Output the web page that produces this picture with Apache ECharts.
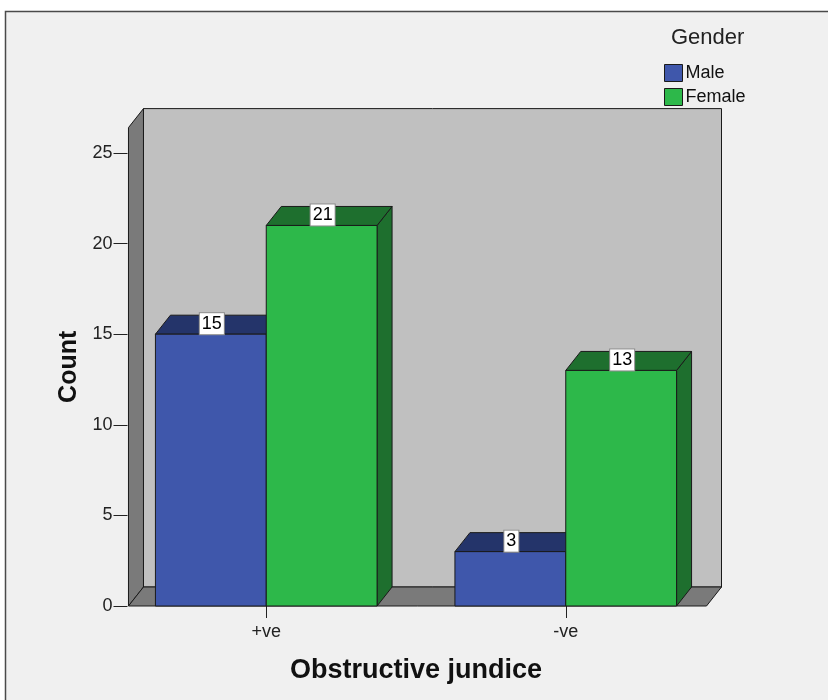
<!DOCTYPE html>
<html>
<head>
<meta charset="utf-8">
<script src="https://cdn.jsdelivr.net/npm/echarts@6/dist/echarts.min.js"></script>
<style>
  html, body { margin: 0; padding: 0; background: #ffffff; }
  #chart { width: 828px; height: 700px; }
</style>
</head>
<body>
<div id="chart"></div>
<script>
// Counts of obstructive jaundice findings by gender
const categories = ['+ve', '-ve'];
const maleCounts = [15, 3];
const femaleCounts = [21, 13];
const yTicks = [0, 5, 10, 15, 20, 25];

// 3D look: depth offset of bars and walls
const DX = 15, DY = 19;
const BAR_FRAC = 0.37;
const EDGE = '#1a1a1a';

const colors = {
  Male: { front: '#3f57ab', top: '#24346a', side: '#2b3d7c' },
  Female: { front: '#2db84a', top: '#1e6f2e', side: '#1e6f2e' }
};
const baseFont = '"Liberation Sans", Arial, sans-serif';

function barRenderer(name, sideIndex) {
  const c = colors[name];
  return function (params, api) {
    const idx = api.value(0);
    const val = api.value(1);
    const base = api.coord([idx, 0]);
    const top = api.coord([idx, val]);
    const band = api.size([1, 0])[0];
    const w = band * BAR_FRAC;
    const x0 = sideIndex === 0 ? base[0] - w : base[0];
    const x1 = x0 + w;
    const y0 = base[1];
    const y1 = top[1];
    return {
      type: 'group',
      children: [
        { type: 'polygon', shape: { points: [[x1, y1], [x1 + DX, y1 - DY], [x1 + DX, y0 - DY], [x1, y0]] },
          style: { fill: c.side, stroke: EDGE, lineWidth: 1 } },
        { type: 'polygon', shape: { points: [[x0, y1], [x0 + DX, y1 - DY], [x1 + DX, y1 - DY], [x1, y1]] },
          style: { fill: c.top, stroke: EDGE, lineWidth: 1 } },
        { type: 'rect', shape: { x: x0, y: y1, width: w, height: y0 - y1 },
          style: { fill: c.front, stroke: EDGE, lineWidth: 1 } },
        { type: 'text', x: (x0 + x1) / 2 + 1, y: y1 - DY / 2 - 1,
          style: { text: String(val), fill: '#000', font: '18px ' + baseFont,
            align: 'center', verticalAlign: 'middle', backgroundColor: '#ffffff',
            borderColor: '#8a8a8a', borderWidth: 1, padding: [2, 2, 1, 2] } }
      ]
    };
  };
}

// Side wall, back wall and floor of the plotting box
function wallRenderer(params, api) {
  const cs = params.coordSys;
  const band = api.size([1, 0])[0];
  const y0 = api.coord([0, 0])[1];
  const yt = cs.y;
  const xl = api.coord([0, 0])[0] - 0.46 * band;
  const xr = api.coord([categories.length - 1, 0])[0] + 0.47 * band;
  const st = (fill) => ({ fill: fill, stroke: EDGE, lineWidth: 1 });
  return {
    type: 'group',
    children: [
      { type: 'polygon', shape: { points: [[xl + DX, yt - DY], [xr + DX, yt - DY], [xr + DX, y0 - DY], [xl + DX, y0 - DY]] }, style: st('#c0c0c0') },
      { type: 'polygon', shape: { points: [[xl, y0], [xl, yt], [xl + DX, yt - DY], [xl + DX, y0 - DY]] }, style: st('#7a7a7a') },
      { type: 'polygon', shape: { points: [[xl, y0], [xl + DX, y0 - DY], [xr + DX, y0 - DY], [xr, y0]] }, style: st('#7a7a7a') }
    ]
  };
}

const chart = echarts.init(document.getElementById('chart'), null, { renderer: 'canvas' });

chart.setOption({
  animation: false,
  backgroundColor: '#ffffff',
  graphic: [{
    type: 'rect', z: -10, silent: true,
    shape: { x: 5.5, y: 11.5, width: 900, height: 800 },
    style: { fill: '#f0f0f0', stroke: '#4a4a4a', lineWidth: 1.5 }
  }],
  title: {
    text: 'Gender', left: 671, top: 27, padding: 0,
    textStyle: { fontFamily: baseFont, fontSize: 22, fontWeight: 'normal', color: '#222' }
  },
  legend: {
    orient: 'vertical', left: 664, top: 64, padding: 0, itemGap: 6,
    itemWidth: 18, itemHeight: 17, icon: 'rect',
    data: [
      { name: 'Male', itemStyle: { color: colors.Male.front, borderColor: EDGE, borderWidth: 1 } },
      { name: 'Female', itemStyle: { color: colors.Female.front, borderColor: EDGE, borderWidth: 1 } }
    ],
    textStyle: { fontFamily: baseFont, fontSize: 18, color: '#111', padding: [0, 0, 0, -2] }
  },
  grid: { left: 116.5, right: 112.5, top: 127.6, bottom: 94, containLabel: false },
  xAxis: {
    type: 'category', data: categories, boundaryGap: true,
    axisLine: { show: false },
    axisTick: { show: true, alignWithLabel: true, length: 12, lineStyle: { color: '#222', width: 1 } },
    axisLabel: { margin: 17, fontFamily: baseFont, fontSize: 18, color: '#222' },
    name: 'Obstructive jundice', nameLocation: 'middle', nameGap: 51,
    nameTextStyle: { fontFamily: baseFont, fontSize: 27, fontWeight: 'bold', color: '#111' }
  },
  yAxis: {
    type: 'value', min: 0, max: 26.4, interval: 5, offset: -11,
    splitLine: { show: false },
    axisLine: { show: false },
    axisTick: { show: true, length: 14, customValues: yTicks, lineStyle: { color: '#222', width: 1 } },
    axisLabel: { margin: 15, customValues: yTicks, fontFamily: baseFont, fontSize: 18, color: '#222' },
    name: 'Count', nameLocation: 'middle', nameGap: 45, nameRotate: 90,
    nameTextStyle: { fontFamily: baseFont, fontSize: 25, fontWeight: 'bold', color: '#111' }
  },
  series: [
    { type: 'custom', name: 'walls', silent: true, z: 1, renderItem: wallRenderer, data: [[0, 0]] },
    { type: 'custom', name: 'Male', z: 2, itemStyle: { color: colors.Male.front },
      renderItem: barRenderer('Male', 0), data: maleCounts.map((v, i) => [i, v]) },
    { type: 'custom', name: 'Female', z: 3, itemStyle: { color: colors.Female.front },
      renderItem: barRenderer('Female', 1), data: femaleCounts.map((v, i) => [i, v]) }
  ]
});
</script>
</body>
</html>
